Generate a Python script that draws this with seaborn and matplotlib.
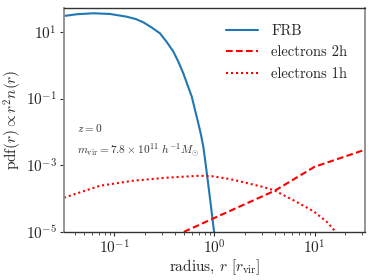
import numpy as np
import pandas as pd
import matplotlib
matplotlib.use("Agg")
import matplotlib.pyplot as plt
import matplotlib.ticker as mticker
import seaborn as sns

# ---- data ----
frb_r = [0.0313, 0.0419, 0.0614, 0.0902, 0.132, 0.163, 0.194, 0.234, 0.285,
         0.333, 0.387, 0.434, 0.488, 0.534, 0.592, 0.638, 0.689, 0.733,
         0.773, 0.809, 0.847, 0.923, 0.99, 1.0]
frb_pdf = [30.2, 34.0, 36.4, 34.7, 28.8, 24.5, 19.5, 13.8, 9.1,
           5.0, 2.6, 1.3, 0.57, 0.27, 0.115, 0.046, 0.018, 8.1e-3,
           3.6e-3, 1.3e-3, 4.5e-4, 5.7e-5, 1.0e-5, 5.0e-6]

e2h_r = [0.4, 1.0, 4.0, 10.0, 32.0]
e2h_pdf = [7.4e-6, 2.6e-5, 1.7e-4, 8.9e-4, 2.9e-3]

e1h_r = [0.0313, 0.0716, 0.154, 0.332, 0.716, 0.97, 1.43, 2.10, 3.08, 4.03,
         6.6, 9.9, 13.2, 15.8, 17.0]
e1h_pdf = [1.05e-4, 2.4e-4, 3.4e-4, 4.2e-4, 4.8e-4, 4.6e-4, 3.8e-4, 2.9e-4,
           2.2e-4, 1.7e-4, 7.9e-5, 4.0e-5, 2.0e-5, 1.1e-5, 6.0e-6]

labels = ["FRB", "electrons 2h", "electrons 1h"]
x_ticks = [0.1, 1.0, 10.0]
y_ticks = [1e1, 1e-1, 1e-3, 1e-5]

sns.set_style("ticks")
plt.rcParams["font.family"] = "serif"
plt.rcParams["font.serif"] = ["cmr10", "DejaVu Serif"]
plt.rcParams["mathtext.fontset"] = "cm"
plt.rcParams["axes.formatter.use_mathtext"] = True
plt.rcParams["axes.unicode_minus"] = False

fig = plt.figure(figsize=(3.74, 2.80), dpi=100)
ax = fig.add_axes([0.171, 0.1725, 0.805, 0.7985])

sns.lineplot(x=frb_r, y=frb_pdf, ax=ax, color="#1f77b4", lw=1.5,
             label=labels[0], sort=False)
sns.lineplot(x=e2h_r, y=e2h_pdf, ax=ax, color="red", lw=1.5,
             linestyle=(0, (3.2, 1.6)), label=labels[1], sort=False)
sns.lineplot(x=e1h_r, y=e1h_pdf, ax=ax, color="red", lw=1.5,
             linestyle=(0, (1, 1.4)), label=labels[2], sort=False)

ax.set_xscale("log")
ax.set_yscale("log")
ax.set_xlim(10 ** -1.505, 10 ** 1.505)
ax.set_ylim(1e-5, 52)
ax.set_xticks(x_ticks)
ax.xaxis.set_minor_locator(mticker.LogLocator(base=10, subs=np.arange(2, 10)))
ax.xaxis.set_minor_formatter(mticker.NullFormatter())
ax.set_yticks(y_ticks)
ax.yaxis.set_minor_locator(mticker.NullLocator())
ax.tick_params(axis="both", which="major", labelsize=11, length=3, width=0.8,
               color="#333333", pad=2)
ax.tick_params(axis="x", which="minor", length=2, width=0.6, color="#333333")

ax.set_xlabel(r"radius, $r$ [$r_{\rm vir}$]", fontsize=11, labelpad=0)
ax.set_ylabel(r"$\mathrm{pdf}(r) \propto r^2 n(r)$", fontsize=11, labelpad=1)

for s in ["left", "right"]:
    ax.spines[s].set_color("#8c8c8c")
    ax.spines[s].set_linewidth(1.3)
for s in ["top", "bottom"]:
    ax.spines[s].set_color("#333333")
    ax.spines[s].set_linewidth(1.0)

ax.text(0.043, 0.464, r"$z=0$", transform=ax.transAxes, fontsize=8.2,
        va="center", ha="left", color="#333333")
ax.text(0.043, 0.365, r"$m_{\rm vir} = 7.8 \times 10^{11}\ h^{-1} M_{\odot}$",
        transform=ax.transAxes, fontsize=8.2, va="center", ha="left",
        color="#333333")

leg = ax.legend(loc="upper right", frameon=False, fontsize=10.5,
                bbox_to_anchor=(0.975, 0.975), labelspacing=0.55,
                handlelength=2.2, handletextpad=0.9, borderaxespad=0.3)

fig.savefig("out.png", dpi=100)
